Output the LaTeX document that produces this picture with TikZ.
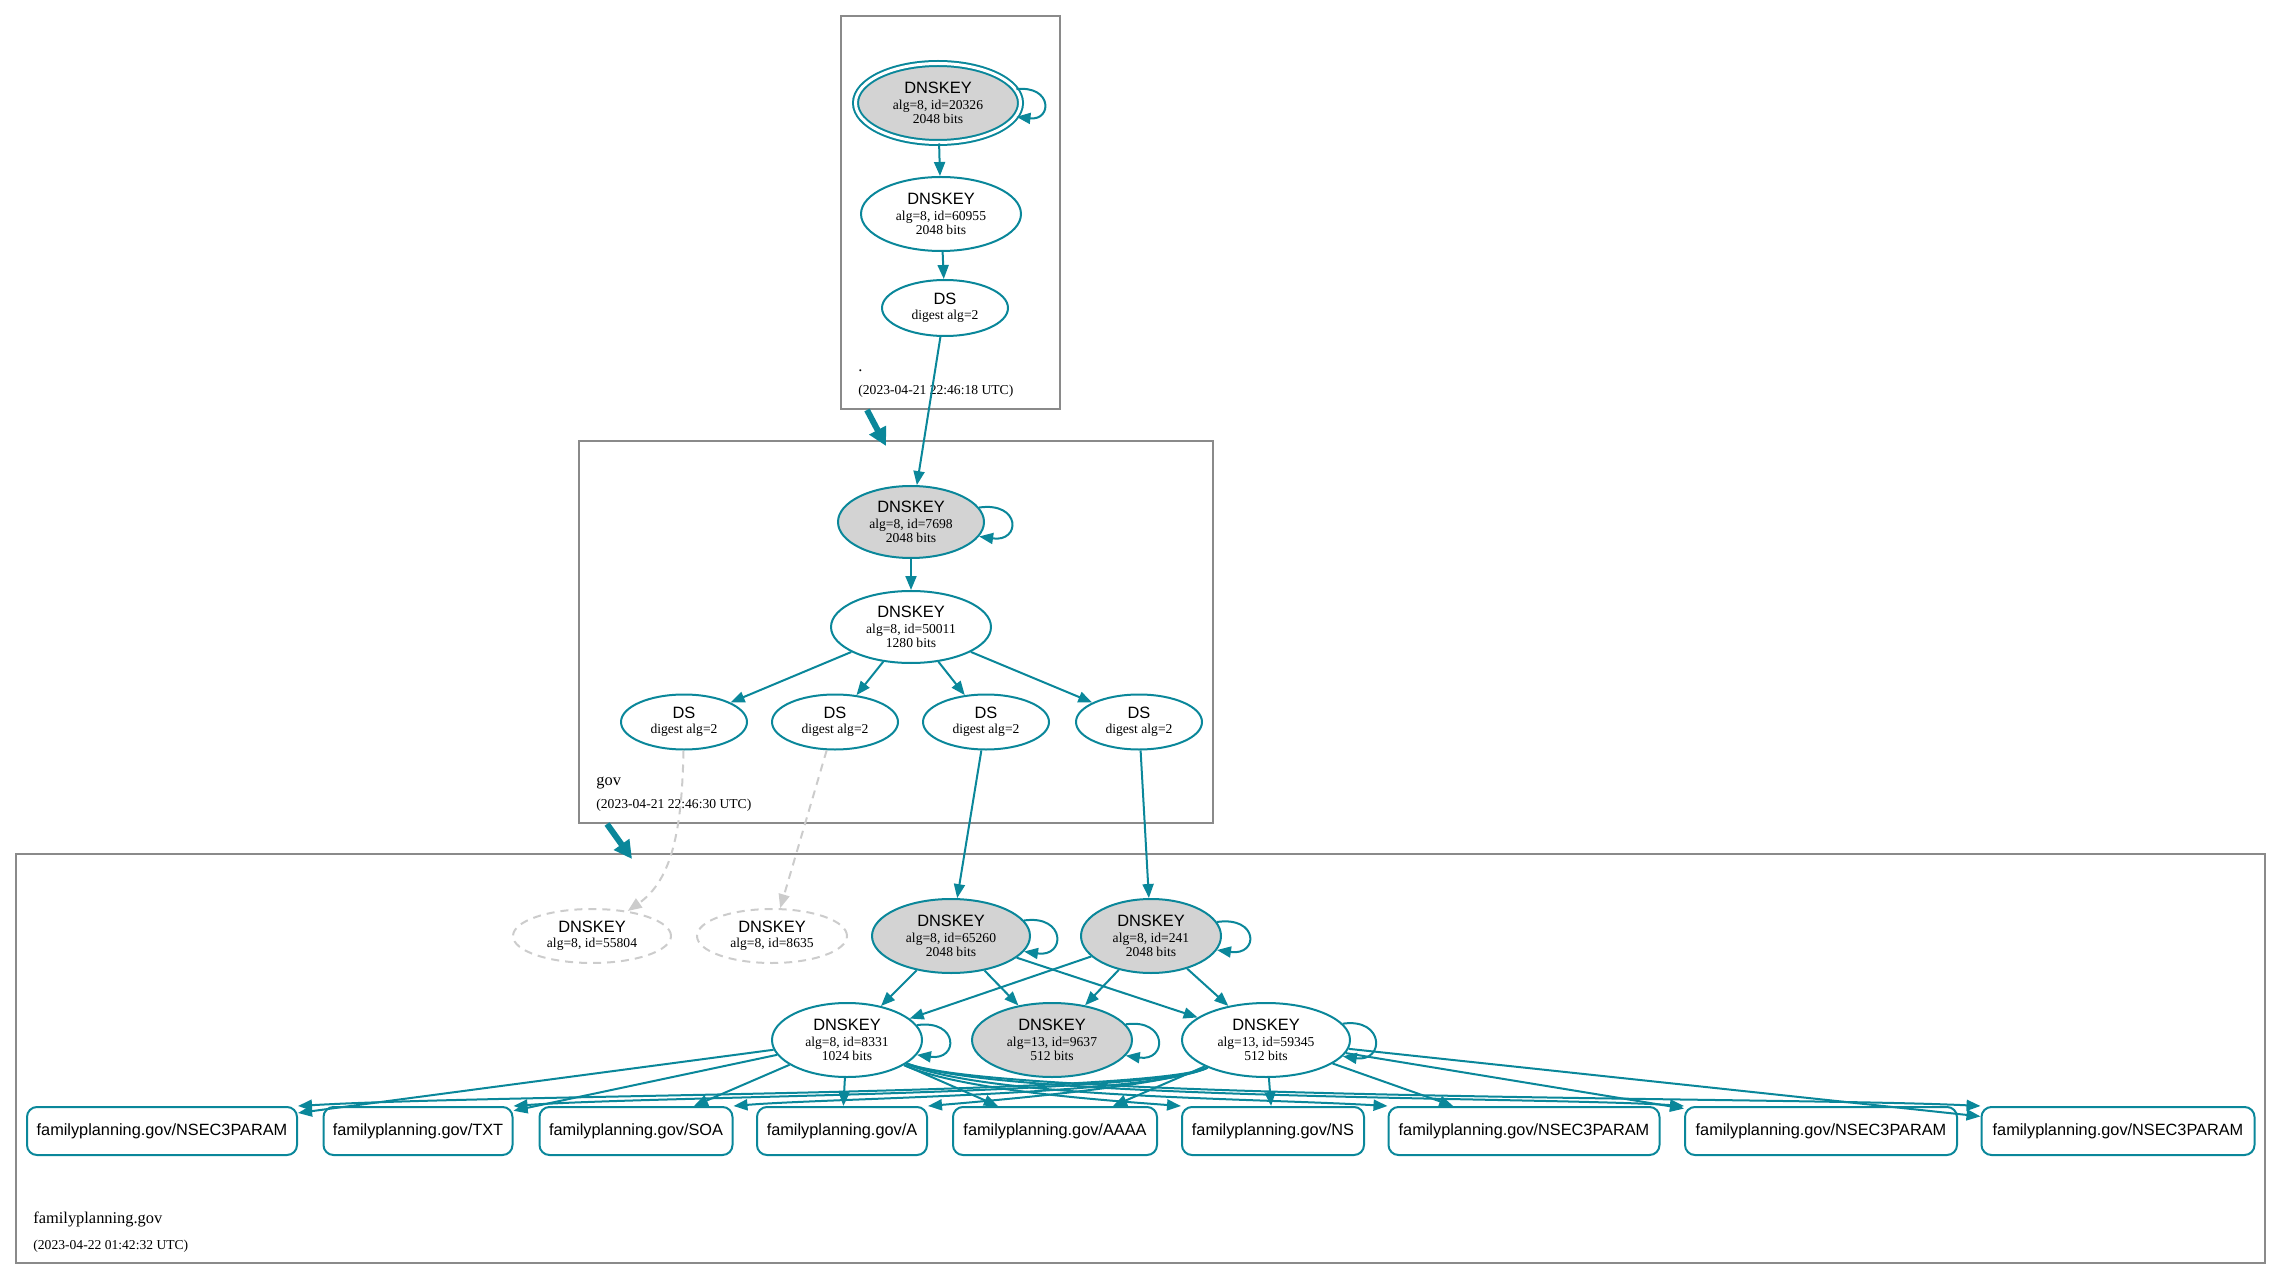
\documentclass[tikz,border=0pt]{standalone}
\usepackage{fontspec}
\setmainfont{Liberation Serif}
\setsansfont{Liberation Sans}
\usepackage{tikz}
\usetikzlibrary{shapes.geometric, arrows.meta}
\definecolor{dnsteal}{HTML}{0A879A}
\definecolor{keygray}{HTML}{D3D3D3}
\definecolor{zonegray}{HTML}{8A8A8A}
\definecolor{lostgray}{HTML}{CCCCCC}

\begin{document}
\begin{tikzpicture}[x=0.5pt, y=-0.5pt,
        dnskey/.style = {draw=dnsteal, line width=1pt, ellipse, inner sep=0pt, align=center, font=\fontsize{6.8}{7.2}\selectfont},
        sepkey/.style = {dnskey, fill=keygray},
        trustkey/.style = {sepkey, double=white, double distance=1.5pt},
        lostkey/.style = {dnskey, draw=lostgray, dash pattern=on 4pt off 3pt},
        rrset/.style = {draw=dnsteal, line width=1pt, rounded corners=5pt, inner sep=0pt, minimum height=24pt, font=\sffamily\fontsize{8.15}{9}\selectfont},
        link/.style = {draw=dnsteal, line width=1pt, -{Triangle[length=7pt, width=5.5pt]}},
        lostlink/.style = {draw=lostgray, line width=1pt, dash pattern=on 4pt off 3pt, -{Triangle[length=7pt, width=5.5pt]}},
        zone/.style = {draw=zonegray, line width=0.7pt},
        deleg/.style = {draw=dnsteal, line width=3pt, -{Triangle[length=9pt, width=9pt]}},
        zonename/.style = {anchor=base west, inner sep=0pt, font=\fontsize{8.2}{9}\selectfont},
        stamp/.style = {anchor=base west, inner sep=0pt, font=\fontsize{6.8}{8}\selectfont}]
        \useasboundingbox (0, 0) rectangle (2281, 1278);

        \draw [zone] (841, 16) rectangle (1060, 409);
        \draw [zone] (579, 441) rectangle (1213, 823);
        \draw [zone] (16, 854) rectangle (2265, 1263);

        \node[zonename] at (858, 372) (rootlabel) {.};
        \node[stamp] at (858, 395) (rootstamp) {(2023-04-21 22:46:18 UTC)};
        \node[zonename] at (596, 785) (govlabel) {gov};
        \node[stamp] at (596, 808) (govstamp) {(2023-04-21 22:46:30 UTC)};
        \node[zonename] at (33, 1223) (fplabel) {familyplanning.gov};
        \node[stamp] at (33, 1249) (fpstamp) {(2023-04-22 01:42:32 UTC)};

        \node[trustkey, minimum width=82.5pt, minimum height=39.5pt] at (938, 103) (K20326) {{\sffamily\fontsize{8.2}{8}\selectfont DNSKEY}\\[0.5pt]alg=8, id=20326\\2048 bits};
        \node[dnskey, minimum width=80pt, minimum height=37pt] at (941, 214) (K60955) {{\sffamily\fontsize{8.2}{8}\selectfont DNSKEY}\\[0.5pt]alg=8, id=60955\\2048 bits};
        \node[dnskey, minimum width=63pt, minimum height=28pt] at (945, 308) (DSR) {{\sffamily\fontsize{8.2}{8}\selectfont DS}\\[0.5pt]digest alg=2};

        \node[sepkey, minimum width=73pt, minimum height=36pt] at (911, 522) (K7698) {{\sffamily\fontsize{8.2}{8}\selectfont DNSKEY}\\[0.5pt]alg=8, id=7698\\2048 bits};
        \node[dnskey, minimum width=80pt, minimum height=36pt] at (911, 627) (K50011) {{\sffamily\fontsize{8.2}{8}\selectfont DNSKEY}\\[0.5pt]alg=8, id=50011\\1280 bits};
        \node[dnskey, minimum width=63pt, minimum height=27.5pt] at (684, 722) (DS1) {{\sffamily\fontsize{8.2}{8}\selectfont DS}\\[0.5pt]digest alg=2};
        \node[dnskey, minimum width=63pt, minimum height=27.5pt] at (835, 722) (DS2) {{\sffamily\fontsize{8.2}{8}\selectfont DS}\\[0.5pt]digest alg=2};
        \node[dnskey, minimum width=63pt, minimum height=27.5pt] at (986, 722) (DS3) {{\sffamily\fontsize{8.2}{8}\selectfont DS}\\[0.5pt]digest alg=2};
        \node[dnskey, minimum width=63pt, minimum height=27.5pt] at (1139, 722) (DS4) {{\sffamily\fontsize{8.2}{8}\selectfont DS}\\[0.5pt]digest alg=2};

        \node[lostkey, minimum width=79pt, minimum height=27pt] at (592, 936) (K55804) {{\sffamily\fontsize{8.2}{8}\selectfont DNSKEY}\\[0.5pt]alg=8, id=55804};
        \node[lostkey, minimum width=75pt, minimum height=27pt] at (772, 936) (K8635) {{\sffamily\fontsize{8.2}{8}\selectfont DNSKEY}\\[0.5pt]alg=8, id=8635};
        \node[sepkey, minimum width=79pt, minimum height=37pt] at (951, 936) (K65260) {{\sffamily\fontsize{8.2}{8}\selectfont DNSKEY}\\[0.5pt]alg=8, id=65260\\2048 bits};
        \node[sepkey, minimum width=70pt, minimum height=37pt] at (1151, 936) (K241) {{\sffamily\fontsize{8.2}{8}\selectfont DNSKEY}\\[0.5pt]alg=8, id=241\\2048 bits};
        \node[dnskey, minimum width=75pt, minimum height=37pt] at (847, 1040) (K8331) {{\sffamily\fontsize{8.2}{8}\selectfont DNSKEY}\\[0.5pt]alg=8, id=8331\\1024 bits};
        \node[sepkey, minimum width=80pt, minimum height=37pt] at (1052, 1040) (K9637) {{\sffamily\fontsize{8.2}{8}\selectfont DNSKEY}\\[0.5pt]alg=13, id=9637\\512 bits};
        \node[dnskey, minimum width=84pt, minimum height=37pt] at (1266, 1040) (K59345) {{\sffamily\fontsize{8.2}{8}\selectfont DNSKEY}\\[0.5pt]alg=13, id=59345\\512 bits};

        \node[rrset, minimum width=135pt] at (162, 1131) (N1) {familyplanning.gov/NSEC3PARAM};
        \node[rrset, minimum width=94.5pt] at (418, 1131) (TXT) {familyplanning.gov/TXT};
        \node[rrset, minimum width=96.5pt] at (636, 1131) (SOA) {familyplanning.gov/SOA};
        \node[rrset, minimum width=85pt] at (842, 1131) (A) {familyplanning.gov/A};
        \node[rrset, minimum width=102pt] at (1055, 1131) (AAAA) {familyplanning.gov/AAAA};
        \node[rrset, minimum width=91pt] at (1273, 1131) (NS) {familyplanning.gov/NS};
        \node[rrset, minimum width=135.5pt] at (1524, 1131) (N2) {familyplanning.gov/NSEC3PARAM};
        \node[rrset, minimum width=136pt] at (1821, 1131) (N3) {familyplanning.gov/NSEC3PARAM};
        \node[rrset, minimum width=136.5pt] at (2118, 1131) (N4) {familyplanning.gov/NSEC3PARAM};

        \coordinate (rootout) at (867, 410);
        \coordinate (govin) at (886, 446);
        \coordinate (govout) at (607, 824);
        \coordinate (fpin) at (632, 859);
        \draw [deleg] (rootout) -- (govin);
        \draw [deleg] (govout) -- (fpin);

        \draw [link] (K20326.10) .. controls +(36, -4) and +(36, 4) .. (K20326.-10);
        \draw [link] (K20326) -- (K60955);
        \draw [link] (K60955) -- (DSR);
        \draw [link] (DSR) -- (K7698);

        \draw [link] (K7698.12) .. controls +(42, -6) and +(42, 6) .. (K7698.-12);
        \draw [link] (K7698) -- (K50011);
        \draw [link] (K50011) -- (DS1);
        \draw [link] (K50011) -- (DS2);
        \draw [link] (K50011) -- (DS3);
        \draw [link] (K50011) -- (DS4);
        \draw [lostlink] (DS1) .. controls (682, 830) and (672, 880) .. (K55804);
        \draw [lostlink] (DS2) -- (K8635);
        \draw [link] (DS3) -- (K65260);
        \draw [link] (DS4) -- (K241);

        \draw [link] (K65260.12) .. controls +(42, -6) and +(42, 6) .. (K65260.-12);
        \draw [link] (K241.12) .. controls +(42, -6) and +(42, 6) .. (K241.-12);
        \draw [link] (K8331.12) .. controls +(42, -6) and +(42, 6) .. (K8331.-12);
        \draw [link] (K9637.12) .. controls +(42, -6) and +(42, 6) .. (K9637.-12);
        \draw [link] (K59345.12) .. controls +(42, -6) and +(42, 6) .. (K59345.-12);

        \draw [link] (K65260) -- (K8331);
        \draw [link] (K65260) -- (K9637);
        \draw [link] (K65260) -- (K59345);
        \draw [link] (K241) -- (K8331);
        \draw [link] (K241) -- (K9637);
        \draw [link] (K241) -- (K59345);

        \draw [link] (K8331) -- (N1);
        \draw [link] (K8331) -- (TXT);
        \draw [link] (K8331) -- (SOA);
        \draw [link] (K8331) -- (A);
        \draw [link] (K8331) -- (AAAA);
        \draw [link] (K8331) .. controls (960, 1090) and (1100, 1100) .. (NS.north west);
        \draw [link] (K8331) .. controls (990, 1098) and (1250, 1098) .. (N2.north west);
        \draw [link] (K8331) .. controls (1000, 1100) and (1550, 1097) .. (N3.north west);
        \draw [link] (K8331) .. controls (1000, 1100) and (1800, 1097) .. (N4.north west);

        \draw [link] (K59345) .. controls (1150, 1095) and (500, 1094) .. (N1.north east);
        \draw [link] (K59345) .. controls (1150, 1095) and (650, 1096) .. (TXT.north east);
        \draw [link] (K59345) .. controls (1150, 1095) and (830, 1098) .. (SOA.north east);
        \draw [link] (K59345) .. controls (1170, 1085) and (1000, 1100) .. (A.north east);
        \draw [link] (K59345) -- (AAAA);
        \draw [link] (K59345) -- (NS);
        \draw [link] (K59345) -- (N2);
        \draw [link] (K59345) -- (N3);
        \draw [link] (K59345) -- (N4);
\end{tikzpicture}
\end{document}
